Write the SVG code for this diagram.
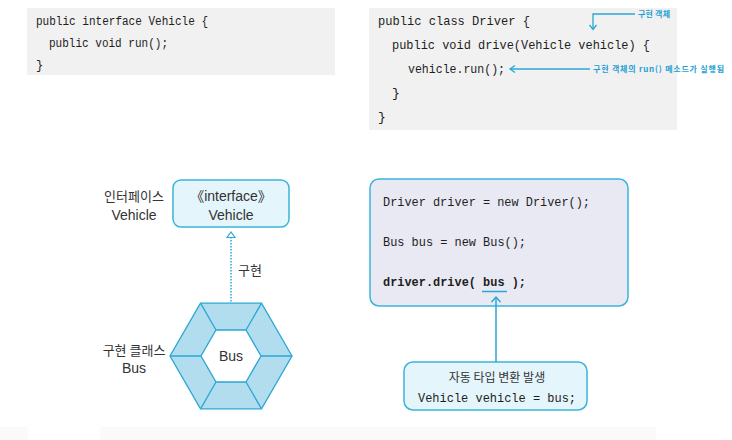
<svg xmlns="http://www.w3.org/2000/svg" width="732" height="440" viewBox="0 0 732 440">
<style>
.code{font-family:"Liberation Mono","DejaVu Sans Mono",monospace;fill:#1e1e1e}
.c11{font-size:12px}
.c12{font-size:13px}
.lbl{font-family:"Liberation Sans","Noto Sans CJK KR",sans-serif;font-size:14px;fill:#333;text-anchor:middle}
.kr{font-family:"Noto Sans CJK KR","Liberation Sans",sans-serif;fill:#333}
.note{font-family:"Noto Sans CJK KR",sans-serif;font-size:8px;fill:#1f9fd3;font-weight:bold}
.graybox{fill:#f1f1f1}
.node{fill:#e4f5fb;stroke:#3ab4da;stroke-width:1.5}
.blue{stroke:#2aa7d4;stroke-width:1.3;fill:none}
</style>
<rect width="732" height="440" fill="#ffffff"/>
<rect x="100" y="427" width="556" height="13" fill="#fafafa"/>
<rect x="0" y="427" width="28" height="13" fill="#fafafa"/>

<g id="code-interface">
<rect class="graybox" x="27" y="8" width="308" height="67"/>
<text class="code c11" x="36" y="25" textLength="172" lengthAdjust="spacingAndGlyphs">public interface Vehicle {</text>
<text class="code c11" x="49" y="47" textLength="119" lengthAdjust="spacingAndGlyphs">public void run();</text>
<text class="code c11" x="36" y="69">}</text>
</g>

<g id="code-driver">
<rect class="graybox" x="369" y="8" width="308" height="122"/>
<text class="code c12" x="378" y="25" textLength="152" lengthAdjust="spacingAndGlyphs">public class Driver {</text>
<text class="code c12" x="392" y="49" textLength="258" lengthAdjust="spacingAndGlyphs">public void drive(Vehicle vehicle) {</text>
<text class="code c12" x="408" y="73" textLength="97" lengthAdjust="spacingAndGlyphs">vehicle.run();</text>
<text class="code c12" x="392" y="97">}</text>
<text class="code c12" x="378" y="121">}</text>
</g>

<g id="annotations">
<path class="blue" d="M635,14 H593 V29"/>
<path class="blue" d="M589.5,25 L593,29.5 L596.5,25"/>
<text class="note" x="638" y="17" textLength="32">구현 객체</text>
<path class="blue" d="M590,69 H510"/>
<path class="blue" d="M515,65.5 L510,69 L515,72.5"/>
<text class="note" x="593" y="72" textLength="131">구현 객체의 run() 메소드가 실행됨</text>
</g>

<g id="interface-vehicle">
<rect class="node" x="173" y="180" width="116" height="47" rx="8"/>
<text class="lbl" x="231" y="201">《interface》</text>
<text class="lbl" x="231" y="220">Vehicle</text>
<text class="lbl" x="134" y="201" style="font-family:'Noto Sans CJK KR',sans-serif;font-size:13px">인터페이스</text>
<text class="lbl" x="134" y="220">Vehicle</text>
</g>

<g id="bus-class">
<polygon points="292,356 261.5,303.2 200.5,303.2 170,356 200.5,408.8 261.5,408.8" fill="#b2ddef" stroke="#2aa7d4" stroke-width="1.3"/>
<polygon points="261,356 246,330 216,330 201,356 216,382 246,382" fill="#ffffff" stroke="#2aa7d4" stroke-width="1.3"/>
<path d="M292,356 L261,356 M261.5,303.2 L246,330 M200.5,303.2 L216,330 M170,356 L201,356 M200.5,408.8 L216,382 M261.5,408.8 L246,382" stroke="#2aa7d4" stroke-width="1.3"/>
<text class="lbl" x="231" y="361">Bus</text>
<text class="lbl" x="134" y="355" style="font-family:'Noto Sans CJK KR',sans-serif;font-size:13px">구현 클래스</text>
<text class="lbl" x="134" y="373">Bus</text>
</g>

<g id="client-code">
<rect x="370" y="179" width="258" height="127" rx="9" fill="#e9e9f4" stroke="#3ab4da" stroke-width="1.5"/>
<text class="code c12" x="383" y="206" textLength="207" lengthAdjust="spacingAndGlyphs">Driver driver = new Driver();</text>
<text class="code c12" x="383" y="246" textLength="143" lengthAdjust="spacingAndGlyphs">Bus bus = new Bus();</text>
<text class="code c12" x="383" y="286" font-weight="bold" textLength="143" lengthAdjust="spacingAndGlyphs">driver.drive( bus );</text>
<line x1="482" y1="291.5" x2="507" y2="291.5" stroke="#2aa7d4" stroke-width="1.5"/>
</g>

<g id="conversion-note">
<rect class="node" x="404" y="362" width="183" height="48" rx="9"/>
<text class="kr" x="497" y="382" font-size="12" text-anchor="middle">자동 타입 변환 발생</text>
<text class="code c12" x="497" y="402" text-anchor="middle" textLength="158" lengthAdjust="spacingAndGlyphs">Vehicle vehicle = bus;</text>
</g>

<g id="connectors">
<line x1="231" y1="237" x2="231" y2="303" stroke="#2aa7d4" stroke-width="1.5" stroke-dasharray="1.5 1.5"/>
<polygon points="231,232 235,237.5 227,237.5" fill="#ffffff" stroke="#2aa7d4" stroke-width="1.2"/>
<text class="kr" x="238" y="275" font-size="13">구현</text>
<line x1="496" y1="362" x2="496" y2="297" stroke="#2aa7d4" stroke-width="1.5"/>
<path d="M491.5,302 L496,297 L500.5,302" fill="none" stroke="#2aa7d4" stroke-width="1.5"/>
</g>
</svg>
